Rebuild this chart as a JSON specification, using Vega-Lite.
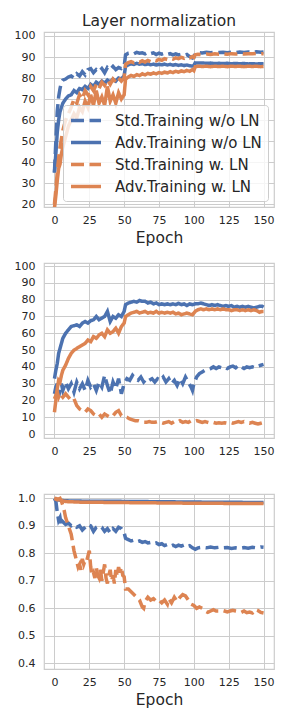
{
"$schema": "https://vega.github.io/schema/vega-lite/v6.json",
"background": "white",
"padding": {"left": 13, "top": 13, "right": 5, "bottom": 5},
"bounds": "flush",
"spacing": 56,
"config": {
  "font": "DejaVu Sans",
  "view": {"stroke": "#cccccc", "strokeWidth": 1.2},
  "axis": {"grid": true, "gridColor": "#cccccc", "gridWidth": 1, "domain": false, "ticks": false, "tickSize": 0, "labelFontSize": 11, "labelColor": "#262626", "labelPadding": 9, "titleFontSize": 15.5, "titleFontWeight": "normal", "titleColor": "#262626", "titlePadding": 5},
  "axisX": {"labelPadding": 7},
  "legend": {"labelFontSize": 15, "labelColor": "#262626", "symbolStrokeWidth": 3.5, "fillColor": "rgba(255,255,255,0.8)", "strokeColor": "#cccccc", "cornerRadius": 3, "padding": 6, "rowPadding": 4}
},
"resolve": {"scale": {"color": "independent", "strokeDash": "independent"}, "legend": {"color": "independent", "strokeDash": "independent"}},
"datasets": {
"acc": [
{"epoch":0,"run":"A","value":35},{"epoch":1,"run":"A","value":50},{"epoch":2,"run":"A","value":64},{"epoch":3,"run":"A","value":71},{"epoch":4,"run":"A","value":75},{"epoch":5,"run":"A","value":78},{"epoch":6,"run":"A","value":79},{"epoch":8,"run":"A","value":79.5},{"epoch":10,"run":"A","value":80.5},{"epoch":12,"run":"A","value":81},{"epoch":14,"run":"A","value":80},{"epoch":16,"run":"A","value":82},{"epoch":18,"run":"A","value":81},{"epoch":20,"run":"A","value":83},{"epoch":22,"run":"A","value":81.5},{"epoch":24,"run":"A","value":84},{"epoch":26,"run":"A","value":84.5},{"epoch":28,"run":"A","value":82.5},{"epoch":30,"run":"A","value":84},{"epoch":32,"run":"A","value":83},{"epoch":34,"run":"A","value":84.5},{"epoch":36,"run":"A","value":82.5},{"epoch":38,"run":"A","value":85},{"epoch":40,"run":"A","value":84},{"epoch":42,"run":"A","value":85.5},{"epoch":44,"run":"A","value":84},{"epoch":46,"run":"A","value":85},{"epoch":48,"run":"A","value":84.5},{"epoch":50,"run":"A","value":85.5},{"epoch":51,"run":"A","value":91},{"epoch":53,"run":"A","value":91.8},{"epoch":55,"run":"A","value":92},{"epoch":57,"run":"A","value":91.5},{"epoch":59,"run":"A","value":92.2},{"epoch":61,"run":"A","value":91.8},{"epoch":63,"run":"A","value":92},{"epoch":65,"run":"A","value":91.5},{"epoch":67,"run":"A","value":92.2},{"epoch":69,"run":"A","value":91.6},{"epoch":71,"run":"A","value":92},{"epoch":73,"run":"A","value":91.2},{"epoch":75,"run":"A","value":91.8},{"epoch":77,"run":"A","value":91.4},{"epoch":79,"run":"A","value":91.8},{"epoch":81,"run":"A","value":91.2},{"epoch":83,"run":"A","value":91.6},{"epoch":85,"run":"A","value":91},{"epoch":87,"run":"A","value":91.5},{"epoch":89,"run":"A","value":91},{"epoch":91,"run":"A","value":91.3},{"epoch":93,"run":"A","value":90.8},{"epoch":95,"run":"A","value":91.2},{"epoch":97,"run":"A","value":90.2},{"epoch":99,"run":"A","value":89.5},{"epoch":100,"run":"A","value":89.8},{"epoch":101,"run":"A","value":91.8},{"epoch":103,"run":"A","value":92.1},{"epoch":106,"run":"A","value":91.9},{"epoch":109,"run":"A","value":92.2},{"epoch":112,"run":"A","value":92},{"epoch":115,"run":"A","value":92.3},{"epoch":118,"run":"A","value":92.1},{"epoch":121,"run":"A","value":92.3},{"epoch":124,"run":"A","value":92},{"epoch":127,"run":"A","value":92.3},{"epoch":130,"run":"A","value":92.1},{"epoch":133,"run":"A","value":92.4},{"epoch":136,"run":"A","value":92.2},{"epoch":139,"run":"A","value":92.4},{"epoch":142,"run":"A","value":92.2},{"epoch":145,"run":"A","value":92.5},{"epoch":148,"run":"A","value":92.3},{"epoch":150,"run":"A","value":92.4},
{"epoch":0,"run":"B","value":35},{"epoch":1,"run":"B","value":44},{"epoch":2,"run":"B","value":54},{"epoch":3,"run":"B","value":60},{"epoch":4,"run":"B","value":64},{"epoch":5,"run":"B","value":66},{"epoch":6,"run":"B","value":68},{"epoch":8,"run":"B","value":70},{"epoch":10,"run":"B","value":71.5},{"epoch":12,"run":"B","value":72},{"epoch":14,"run":"B","value":74},{"epoch":16,"run":"B","value":73},{"epoch":18,"run":"B","value":75},{"epoch":20,"run":"B","value":74.5},{"epoch":22,"run":"B","value":76},{"epoch":24,"run":"B","value":75},{"epoch":26,"run":"B","value":77},{"epoch":28,"run":"B","value":76},{"epoch":30,"run":"B","value":78},{"epoch":32,"run":"B","value":77},{"epoch":34,"run":"B","value":78.5},{"epoch":36,"run":"B","value":77.5},{"epoch":38,"run":"B","value":79},{"epoch":40,"run":"B","value":78},{"epoch":42,"run":"B","value":79.5},{"epoch":44,"run":"B","value":78.5},{"epoch":46,"run":"B","value":80},{"epoch":48,"run":"B","value":79.5},{"epoch":50,"run":"B","value":81},{"epoch":51,"run":"B","value":85.5},{"epoch":53,"run":"B","value":86.3},{"epoch":55,"run":"B","value":86.8},{"epoch":57,"run":"B","value":86.5},{"epoch":59,"run":"B","value":87},{"epoch":61,"run":"B","value":86.6},{"epoch":63,"run":"B","value":86.8},{"epoch":65,"run":"B","value":86.4},{"epoch":67,"run":"B","value":86.7},{"epoch":69,"run":"B","value":86.3},{"epoch":71,"run":"B","value":86.6},{"epoch":73,"run":"B","value":86.2},{"epoch":75,"run":"B","value":86.5},{"epoch":77,"run":"B","value":86.3},{"epoch":79,"run":"B","value":86.6},{"epoch":81,"run":"B","value":86.2},{"epoch":83,"run":"B","value":86.5},{"epoch":85,"run":"B","value":86.1},{"epoch":87,"run":"B","value":86.4},{"epoch":89,"run":"B","value":86},{"epoch":91,"run":"B","value":86.3},{"epoch":93,"run":"B","value":85.9},{"epoch":95,"run":"B","value":86.2},{"epoch":97,"run":"B","value":85.8},{"epoch":99,"run":"B","value":85.7},{"epoch":100,"run":"B","value":86},{"epoch":101,"run":"B","value":87.2},{"epoch":103,"run":"B","value":87.1},{"epoch":106,"run":"B","value":87.2},{"epoch":109,"run":"B","value":87},{"epoch":112,"run":"B","value":87.1},{"epoch":115,"run":"B","value":86.9},{"epoch":118,"run":"B","value":87},{"epoch":121,"run":"B","value":86.9},{"epoch":124,"run":"B","value":87},{"epoch":127,"run":"B","value":86.8},{"epoch":130,"run":"B","value":86.9},{"epoch":133,"run":"B","value":86.8},{"epoch":136,"run":"B","value":86.9},{"epoch":139,"run":"B","value":86.7},{"epoch":142,"run":"B","value":86.8},{"epoch":145,"run":"B","value":86.7},{"epoch":148,"run":"B","value":86.8},{"epoch":150,"run":"B","value":86.7},
{"epoch":0,"run":"C","value":20},{"epoch":1,"run":"C","value":27},{"epoch":2,"run":"C","value":35},{"epoch":3,"run":"C","value":42},{"epoch":4,"run":"C","value":47},{"epoch":5,"run":"C","value":51},{"epoch":6,"run":"C","value":55},{"epoch":8,"run":"C","value":60},{"epoch":10,"run":"C","value":63},{"epoch":12,"run":"C","value":66},{"epoch":14,"run":"C","value":70},{"epoch":16,"run":"C","value":68},{"epoch":18,"run":"C","value":72},{"epoch":20,"run":"C","value":70},{"epoch":22,"run":"C","value":74},{"epoch":24,"run":"C","value":72},{"epoch":26,"run":"C","value":76},{"epoch":28,"run":"C","value":74},{"epoch":30,"run":"C","value":77},{"epoch":32,"run":"C","value":75},{"epoch":34,"run":"C","value":78},{"epoch":36,"run":"C","value":76.5},{"epoch":38,"run":"C","value":79},{"epoch":40,"run":"C","value":77},{"epoch":42,"run":"C","value":79.5},{"epoch":44,"run":"C","value":78},{"epoch":46,"run":"C","value":80},{"epoch":48,"run":"C","value":78.5},{"epoch":50,"run":"C","value":80},{"epoch":51,"run":"C","value":86.5},{"epoch":53,"run":"C","value":87.3},{"epoch":55,"run":"C","value":87.8},{"epoch":57,"run":"C","value":87.2},{"epoch":59,"run":"C","value":88},{"epoch":61,"run":"C","value":87.5},{"epoch":63,"run":"C","value":88.2},{"epoch":65,"run":"C","value":87.6},{"epoch":67,"run":"C","value":88.4},{"epoch":69,"run":"C","value":87.8},{"epoch":71,"run":"C","value":88.6},{"epoch":73,"run":"C","value":88.2},{"epoch":75,"run":"C","value":88.9},{"epoch":77,"run":"C","value":88.4},{"epoch":79,"run":"C","value":89.2},{"epoch":81,"run":"C","value":88.8},{"epoch":83,"run":"C","value":89.4},{"epoch":85,"run":"C","value":89},{"epoch":87,"run":"C","value":89.6},{"epoch":89,"run":"C","value":89.2},{"epoch":91,"run":"C","value":89.8},{"epoch":93,"run":"C","value":89.4},{"epoch":95,"run":"C","value":90},{"epoch":97,"run":"C","value":89.6},{"epoch":99,"run":"C","value":90.2},{"epoch":100,"run":"C","value":89.8},{"epoch":101,"run":"C","value":91},{"epoch":103,"run":"C","value":91.3},{"epoch":106,"run":"C","value":91.2},{"epoch":109,"run":"C","value":91.4},{"epoch":112,"run":"C","value":91.2},{"epoch":115,"run":"C","value":91.5},{"epoch":118,"run":"C","value":91.3},{"epoch":121,"run":"C","value":91.5},{"epoch":124,"run":"C","value":91.3},{"epoch":127,"run":"C","value":91.6},{"epoch":130,"run":"C","value":91.4},{"epoch":133,"run":"C","value":91.6},{"epoch":136,"run":"C","value":91.4},{"epoch":139,"run":"C","value":91.6},{"epoch":142,"run":"C","value":91.5},{"epoch":145,"run":"C","value":91.7},{"epoch":148,"run":"C","value":91.5},{"epoch":150,"run":"C","value":91.6},
{"epoch":0,"run":"D","value":18},{"epoch":1,"run":"D","value":24},{"epoch":2,"run":"D","value":31},{"epoch":3,"run":"D","value":37},{"epoch":4,"run":"D","value":39},{"epoch":5,"run":"D","value":44},{"epoch":6,"run":"D","value":47},{"epoch":8,"run":"D","value":52},{"epoch":10,"run":"D","value":57},{"epoch":12,"run":"D","value":60},{"epoch":14,"run":"D","value":63},{"epoch":16,"run":"D","value":61},{"epoch":18,"run":"D","value":66},{"epoch":20,"run":"D","value":64},{"epoch":22,"run":"D","value":69},{"epoch":24,"run":"D","value":66},{"epoch":26,"run":"D","value":72},{"epoch":28,"run":"D","value":67},{"epoch":30,"run":"D","value":74},{"epoch":32,"run":"D","value":68},{"epoch":34,"run":"D","value":71},{"epoch":36,"run":"D","value":67},{"epoch":38,"run":"D","value":76},{"epoch":40,"run":"D","value":69},{"epoch":42,"run":"D","value":72},{"epoch":44,"run":"D","value":68},{"epoch":46,"run":"D","value":73},{"epoch":48,"run":"D","value":70},{"epoch":50,"run":"D","value":72},{"epoch":51,"run":"D","value":79.5},{"epoch":53,"run":"D","value":80.5},{"epoch":55,"run":"D","value":81.2},{"epoch":57,"run":"D","value":80.8},{"epoch":59,"run":"D","value":81.6},{"epoch":61,"run":"D","value":81.2},{"epoch":63,"run":"D","value":82},{"epoch":65,"run":"D","value":81.5},{"epoch":67,"run":"D","value":82.2},{"epoch":69,"run":"D","value":81.8},{"epoch":71,"run":"D","value":82.4},{"epoch":73,"run":"D","value":82},{"epoch":75,"run":"D","value":82.6},{"epoch":77,"run":"D","value":82.2},{"epoch":79,"run":"D","value":82.8},{"epoch":81,"run":"D","value":82.4},{"epoch":83,"run":"D","value":83},{"epoch":85,"run":"D","value":82.6},{"epoch":87,"run":"D","value":83.2},{"epoch":89,"run":"D","value":82.8},{"epoch":91,"run":"D","value":83.4},{"epoch":93,"run":"D","value":83},{"epoch":95,"run":"D","value":83.6},{"epoch":97,"run":"D","value":83.2},{"epoch":99,"run":"D","value":84},{"epoch":100,"run":"D","value":83.5},{"epoch":101,"run":"D","value":85.4},{"epoch":103,"run":"D","value":85.6},{"epoch":106,"run":"D","value":85.5},{"epoch":109,"run":"D","value":85.6},{"epoch":112,"run":"D","value":85.4},{"epoch":115,"run":"D","value":85.6},{"epoch":118,"run":"D","value":85.5},{"epoch":121,"run":"D","value":85.6},{"epoch":124,"run":"D","value":85.4},{"epoch":127,"run":"D","value":85.6},{"epoch":130,"run":"D","value":85.5},{"epoch":133,"run":"D","value":85.6},{"epoch":136,"run":"D","value":85.4},{"epoch":139,"run":"D","value":85.6},{"epoch":142,"run":"D","value":85.5},{"epoch":145,"run":"D","value":85.6},{"epoch":148,"run":"D","value":85.4},{"epoch":150,"run":"D","value":85.5}
],
"rob": [
{"epoch":0,"run":"A","value":24},{"epoch":1,"run":"A","value":28},{"epoch":2,"run":"A","value":30},{"epoch":3,"run":"A","value":22},{"epoch":4,"run":"A","value":27},{"epoch":5,"run":"A","value":30},{"epoch":6,"run":"A","value":26},{"epoch":8,"run":"A","value":31},{"epoch":10,"run":"A","value":27},{"epoch":12,"run":"A","value":30},{"epoch":14,"run":"A","value":25},{"epoch":16,"run":"A","value":31},{"epoch":18,"run":"A","value":27},{"epoch":20,"run":"A","value":30},{"epoch":22,"run":"A","value":26},{"epoch":24,"run":"A","value":32},{"epoch":26,"run":"A","value":28},{"epoch":28,"run":"A","value":30},{"epoch":30,"run":"A","value":26},{"epoch":32,"run":"A","value":31},{"epoch":34,"run":"A","value":28},{"epoch":36,"run":"A","value":35},{"epoch":38,"run":"A","value":29},{"epoch":40,"run":"A","value":24},{"epoch":42,"run":"A","value":31},{"epoch":44,"run":"A","value":27},{"epoch":46,"run":"A","value":33},{"epoch":48,"run":"A","value":24},{"epoch":50,"run":"A","value":30},{"epoch":52,"run":"A","value":33},{"epoch":54,"run":"A","value":32},{"epoch":56,"run":"A","value":35},{"epoch":58,"run":"A","value":33},{"epoch":60,"run":"A","value":32},{"epoch":62,"run":"A","value":34},{"epoch":64,"run":"A","value":31},{"epoch":66,"run":"A","value":33},{"epoch":68,"run":"A","value":32},{"epoch":70,"run":"A","value":33},{"epoch":72,"run":"A","value":31},{"epoch":74,"run":"A","value":33},{"epoch":76,"run":"A","value":32},{"epoch":78,"run":"A","value":34},{"epoch":80,"run":"A","value":31},{"epoch":82,"run":"A","value":33},{"epoch":84,"run":"A","value":30},{"epoch":86,"run":"A","value":32},{"epoch":88,"run":"A","value":29},{"epoch":90,"run":"A","value":33},{"epoch":92,"run":"A","value":30},{"epoch":94,"run":"A","value":34},{"epoch":96,"run":"A","value":31},{"epoch":98,"run":"A","value":28},{"epoch":99,"run":"A","value":26},{"epoch":100,"run":"A","value":30},{"epoch":102,"run":"A","value":34},{"epoch":104,"run":"A","value":36},{"epoch":106,"run":"A","value":37},{"epoch":108,"run":"A","value":38},{"epoch":110,"run":"A","value":38.5},{"epoch":112,"run":"A","value":39},{"epoch":114,"run":"A","value":40},{"epoch":116,"run":"A","value":39},{"epoch":118,"run":"A","value":40},{"epoch":120,"run":"A","value":39.5},{"epoch":122,"run":"A","value":40},{"epoch":124,"run":"A","value":39},{"epoch":126,"run":"A","value":40},{"epoch":128,"run":"A","value":40.5},{"epoch":130,"run":"A","value":39.5},{"epoch":132,"run":"A","value":41},{"epoch":134,"run":"A","value":40},{"epoch":136,"run":"A","value":39},{"epoch":138,"run":"A","value":40},{"epoch":140,"run":"A","value":39.5},{"epoch":142,"run":"A","value":40},{"epoch":144,"run":"A","value":39.5},{"epoch":146,"run":"A","value":40.5},{"epoch":148,"run":"A","value":41},{"epoch":150,"run":"A","value":41.5},
{"epoch":0,"run":"B","value":33},{"epoch":1,"run":"B","value":38},{"epoch":2,"run":"B","value":42},{"epoch":3,"run":"B","value":48},{"epoch":4,"run":"B","value":51},{"epoch":5,"run":"B","value":54},{"epoch":6,"run":"B","value":57},{"epoch":8,"run":"B","value":60},{"epoch":10,"run":"B","value":62},{"epoch":12,"run":"B","value":64},{"epoch":14,"run":"B","value":64.5},{"epoch":16,"run":"B","value":65},{"epoch":18,"run":"B","value":64},{"epoch":20,"run":"B","value":66},{"epoch":22,"run":"B","value":67},{"epoch":24,"run":"B","value":66},{"epoch":26,"run":"B","value":67.5},{"epoch":28,"run":"B","value":68},{"epoch":30,"run":"B","value":70},{"epoch":32,"run":"B","value":68},{"epoch":34,"run":"B","value":69},{"epoch":36,"run":"B","value":70},{"epoch":38,"run":"B","value":73},{"epoch":40,"run":"B","value":67},{"epoch":42,"run":"B","value":70},{"epoch":44,"run":"B","value":69},{"epoch":46,"run":"B","value":71},{"epoch":48,"run":"B","value":70},{"epoch":50,"run":"B","value":73},{"epoch":51,"run":"B","value":77},{"epoch":53,"run":"B","value":78},{"epoch":55,"run":"B","value":78.5},{"epoch":57,"run":"B","value":79},{"epoch":59,"run":"B","value":78.5},{"epoch":61,"run":"B","value":79.5},{"epoch":63,"run":"B","value":79},{"epoch":65,"run":"B","value":79},{"epoch":67,"run":"B","value":78},{"epoch":69,"run":"B","value":78.5},{"epoch":71,"run":"B","value":77.5},{"epoch":73,"run":"B","value":78},{"epoch":75,"run":"B","value":77},{"epoch":77,"run":"B","value":77.5},{"epoch":79,"run":"B","value":77},{"epoch":81,"run":"B","value":77.5},{"epoch":83,"run":"B","value":77},{"epoch":85,"run":"B","value":77.5},{"epoch":87,"run":"B","value":77},{"epoch":89,"run":"B","value":77.8},{"epoch":91,"run":"B","value":77},{"epoch":93,"run":"B","value":77.5},{"epoch":95,"run":"B","value":76.5},{"epoch":97,"run":"B","value":77.5},{"epoch":99,"run":"B","value":77},{"epoch":101,"run":"B","value":77.5},{"epoch":103,"run":"B","value":77.5},{"epoch":105,"run":"B","value":78},{"epoch":107,"run":"B","value":77.5},{"epoch":109,"run":"B","value":77},{"epoch":111,"run":"B","value":76.5},{"epoch":113,"run":"B","value":77},{"epoch":115,"run":"B","value":76.5},{"epoch":117,"run":"B","value":77},{"epoch":119,"run":"B","value":76.5},{"epoch":121,"run":"B","value":76},{"epoch":123,"run":"B","value":76.5},{"epoch":125,"run":"B","value":76},{"epoch":127,"run":"B","value":76.5},{"epoch":129,"run":"B","value":75.5},{"epoch":131,"run":"B","value":76},{"epoch":133,"run":"B","value":75.5},{"epoch":135,"run":"B","value":76},{"epoch":137,"run":"B","value":75.5},{"epoch":139,"run":"B","value":76},{"epoch":141,"run":"B","value":75.5},{"epoch":143,"run":"B","value":75},{"epoch":145,"run":"B","value":75.5},{"epoch":147,"run":"B","value":76},{"epoch":149,"run":"B","value":76},{"epoch":150,"run":"B","value":75.5},
{"epoch":0,"run":"C","value":21},{"epoch":1,"run":"C","value":23},{"epoch":2,"run":"C","value":25},{"epoch":3,"run":"C","value":22},{"epoch":4,"run":"C","value":24},{"epoch":6,"run":"C","value":22},{"epoch":8,"run":"C","value":24},{"epoch":10,"run":"C","value":22},{"epoch":12,"run":"C","value":20},{"epoch":14,"run":"C","value":21},{"epoch":16,"run":"C","value":17},{"epoch":18,"run":"C","value":15},{"epoch":20,"run":"C","value":14},{"epoch":22,"run":"C","value":13},{"epoch":24,"run":"C","value":15},{"epoch":26,"run":"C","value":14},{"epoch":28,"run":"C","value":12},{"epoch":30,"run":"C","value":11},{"epoch":32,"run":"C","value":12},{"epoch":34,"run":"C","value":10},{"epoch":36,"run":"C","value":12},{"epoch":38,"run":"C","value":11},{"epoch":40,"run":"C","value":10},{"epoch":42,"run":"C","value":11},{"epoch":44,"run":"C","value":13},{"epoch":46,"run":"C","value":14},{"epoch":48,"run":"C","value":11},{"epoch":50,"run":"C","value":10.5},{"epoch":52,"run":"C","value":10},{"epoch":54,"run":"C","value":9},{"epoch":56,"run":"C","value":8.5},{"epoch":58,"run":"C","value":8},{"epoch":60,"run":"C","value":8},{"epoch":62,"run":"C","value":7.5},{"epoch":64,"run":"C","value":7},{"epoch":66,"run":"C","value":7},{"epoch":68,"run":"C","value":7.5},{"epoch":70,"run":"C","value":7},{"epoch":72,"run":"C","value":7},{"epoch":74,"run":"C","value":7.5},{"epoch":76,"run":"C","value":7},{"epoch":78,"run":"C","value":6.5},{"epoch":80,"run":"C","value":7},{"epoch":82,"run":"C","value":7.5},{"epoch":84,"run":"C","value":6.5},{"epoch":86,"run":"C","value":7.5},{"epoch":88,"run":"C","value":7},{"epoch":90,"run":"C","value":8},{"epoch":92,"run":"C","value":7},{"epoch":94,"run":"C","value":7.5},{"epoch":96,"run":"C","value":7},{"epoch":98,"run":"C","value":8},{"epoch":100,"run":"C","value":7.5},{"epoch":102,"run":"C","value":8},{"epoch":104,"run":"C","value":7.5},{"epoch":106,"run":"C","value":7},{"epoch":108,"run":"C","value":7.5},{"epoch":110,"run":"C","value":7},{"epoch":112,"run":"C","value":6.5},{"epoch":114,"run":"C","value":7},{"epoch":116,"run":"C","value":6.5},{"epoch":118,"run":"C","value":6.8},{"epoch":120,"run":"C","value":6.5},{"epoch":122,"run":"C","value":6.8},{"epoch":124,"run":"C","value":6.5},{"epoch":126,"run":"C","value":7},{"epoch":128,"run":"C","value":6.5},{"epoch":130,"run":"C","value":7},{"epoch":132,"run":"C","value":7.5},{"epoch":134,"run":"C","value":7},{"epoch":136,"run":"C","value":7.5},{"epoch":138,"run":"C","value":7},{"epoch":140,"run":"C","value":6.5},{"epoch":142,"run":"C","value":7},{"epoch":144,"run":"C","value":6.5},{"epoch":146,"run":"C","value":6},{"epoch":148,"run":"C","value":6.5},{"epoch":150,"run":"C","value":7},
{"epoch":0,"run":"D","value":13},{"epoch":1,"run":"D","value":20},{"epoch":2,"run":"D","value":27},{"epoch":3,"run":"D","value":32},{"epoch":4,"run":"D","value":31},{"epoch":5,"run":"D","value":35},{"epoch":6,"run":"D","value":38},{"epoch":8,"run":"D","value":41},{"epoch":10,"run":"D","value":45},{"epoch":12,"run":"D","value":48},{"epoch":14,"run":"D","value":50},{"epoch":16,"run":"D","value":51},{"epoch":18,"run":"D","value":52},{"epoch":20,"run":"D","value":53},{"epoch":22,"run":"D","value":54},{"epoch":24,"run":"D","value":56},{"epoch":26,"run":"D","value":55},{"epoch":28,"run":"D","value":58},{"epoch":30,"run":"D","value":57},{"epoch":32,"run":"D","value":59},{"epoch":34,"run":"D","value":60},{"epoch":36,"run":"D","value":58},{"epoch":38,"run":"D","value":62},{"epoch":40,"run":"D","value":60},{"epoch":42,"run":"D","value":61},{"epoch":44,"run":"D","value":63},{"epoch":46,"run":"D","value":60},{"epoch":48,"run":"D","value":64},{"epoch":50,"run":"D","value":66},{"epoch":51,"run":"D","value":70},{"epoch":53,"run":"D","value":71},{"epoch":55,"run":"D","value":72},{"epoch":57,"run":"D","value":72.5},{"epoch":59,"run":"D","value":73},{"epoch":61,"run":"D","value":72},{"epoch":63,"run":"D","value":72.5},{"epoch":65,"run":"D","value":73},{"epoch":67,"run":"D","value":72},{"epoch":69,"run":"D","value":72.5},{"epoch":71,"run":"D","value":72},{"epoch":73,"run":"D","value":73},{"epoch":75,"run":"D","value":72},{"epoch":77,"run":"D","value":72.5},{"epoch":79,"run":"D","value":72},{"epoch":81,"run":"D","value":72.5},{"epoch":83,"run":"D","value":72},{"epoch":85,"run":"D","value":72.5},{"epoch":87,"run":"D","value":71.5},{"epoch":89,"run":"D","value":72},{"epoch":91,"run":"D","value":71},{"epoch":93,"run":"D","value":71.5},{"epoch":95,"run":"D","value":72},{"epoch":97,"run":"D","value":71.5},{"epoch":99,"run":"D","value":71},{"epoch":101,"run":"D","value":73},{"epoch":103,"run":"D","value":74},{"epoch":105,"run":"D","value":74.5},{"epoch":107,"run":"D","value":74},{"epoch":109,"run":"D","value":74.5},{"epoch":111,"run":"D","value":74},{"epoch":113,"run":"D","value":74.5},{"epoch":115,"run":"D","value":74},{"epoch":117,"run":"D","value":74.5},{"epoch":119,"run":"D","value":74},{"epoch":121,"run":"D","value":74.5},{"epoch":123,"run":"D","value":74},{"epoch":125,"run":"D","value":74},{"epoch":127,"run":"D","value":73.5},{"epoch":129,"run":"D","value":74},{"epoch":131,"run":"D","value":74},{"epoch":133,"run":"D","value":73.5},{"epoch":135,"run":"D","value":74},{"epoch":137,"run":"D","value":73.5},{"epoch":139,"run":"D","value":74},{"epoch":141,"run":"D","value":73.5},{"epoch":143,"run":"D","value":74},{"epoch":145,"run":"D","value":73.5},{"epoch":147,"run":"D","value":72.5},{"epoch":149,"run":"D","value":73},{"epoch":150,"run":"D","value":73}
],
"sim": [
{"epoch":0,"run":"A","value":1.0},{"epoch":1,"run":"A","value":0.99},{"epoch":2,"run":"A","value":0.95},{"epoch":3,"run":"A","value":0.92},{"epoch":4,"run":"A","value":0.93},{"epoch":5,"run":"A","value":0.9},{"epoch":6,"run":"A","value":0.915},{"epoch":8,"run":"A","value":0.905},{"epoch":10,"run":"A","value":0.91},{"epoch":12,"run":"A","value":0.9},{"epoch":14,"run":"A","value":0.905},{"epoch":16,"run":"A","value":0.895},{"epoch":18,"run":"A","value":0.9},{"epoch":20,"run":"A","value":0.885},{"epoch":22,"run":"A","value":0.895},{"epoch":24,"run":"A","value":0.905},{"epoch":26,"run":"A","value":0.9},{"epoch":28,"run":"A","value":0.88},{"epoch":30,"run":"A","value":0.895},{"epoch":32,"run":"A","value":0.9},{"epoch":34,"run":"A","value":0.895},{"epoch":36,"run":"A","value":0.88},{"epoch":38,"run":"A","value":0.89},{"epoch":40,"run":"A","value":0.875},{"epoch":42,"run":"A","value":0.89},{"epoch":44,"run":"A","value":0.88},{"epoch":46,"run":"A","value":0.895},{"epoch":48,"run":"A","value":0.89},{"epoch":50,"run":"A","value":0.875},{"epoch":51,"run":"A","value":0.855},{"epoch":53,"run":"A","value":0.85},{"epoch":55,"run":"A","value":0.845},{"epoch":57,"run":"A","value":0.848},{"epoch":59,"run":"A","value":0.842},{"epoch":61,"run":"A","value":0.845},{"epoch":63,"run":"A","value":0.84},{"epoch":65,"run":"A","value":0.843},{"epoch":67,"run":"A","value":0.838},{"epoch":69,"run":"A","value":0.84},{"epoch":71,"run":"A","value":0.835},{"epoch":73,"run":"A","value":0.838},{"epoch":75,"run":"A","value":0.832},{"epoch":77,"run":"A","value":0.835},{"epoch":79,"run":"A","value":0.828},{"epoch":81,"run":"A","value":0.832},{"epoch":83,"run":"A","value":0.826},{"epoch":85,"run":"A","value":0.83},{"epoch":87,"run":"A","value":0.825},{"epoch":89,"run":"A","value":0.83},{"epoch":91,"run":"A","value":0.826},{"epoch":93,"run":"A","value":0.83},{"epoch":95,"run":"A","value":0.824},{"epoch":97,"run":"A","value":0.828},{"epoch":99,"run":"A","value":0.82},{"epoch":101,"run":"A","value":0.815},{"epoch":103,"run":"A","value":0.82},{"epoch":106,"run":"A","value":0.822},{"epoch":109,"run":"A","value":0.82},{"epoch":112,"run":"A","value":0.823},{"epoch":115,"run":"A","value":0.82},{"epoch":118,"run":"A","value":0.822},{"epoch":121,"run":"A","value":0.82},{"epoch":124,"run":"A","value":0.821},{"epoch":127,"run":"A","value":0.818},{"epoch":130,"run":"A","value":0.82},{"epoch":133,"run":"A","value":0.818},{"epoch":136,"run":"A","value":0.821},{"epoch":139,"run":"A","value":0.819},{"epoch":142,"run":"A","value":0.822},{"epoch":145,"run":"A","value":0.82},{"epoch":148,"run":"A","value":0.823},{"epoch":150,"run":"A","value":0.822},
{"epoch":0,"run":"B","value":1.0},{"epoch":2,"run":"B","value":0.995},{"epoch":4,"run":"B","value":0.993},{"epoch":6,"run":"B","value":0.992},{"epoch":10,"run":"B","value":0.991},{"epoch":20,"run":"B","value":0.99},{"epoch":30,"run":"B","value":0.99},{"epoch":40,"run":"B","value":0.99},{"epoch":50,"run":"B","value":0.989},{"epoch":60,"run":"B","value":0.989},{"epoch":70,"run":"B","value":0.988},{"epoch":80,"run":"B","value":0.988},{"epoch":90,"run":"B","value":0.987},{"epoch":100,"run":"B","value":0.987},{"epoch":110,"run":"B","value":0.986},{"epoch":120,"run":"B","value":0.986},{"epoch":130,"run":"B","value":0.986},{"epoch":140,"run":"B","value":0.985},{"epoch":150,"run":"B","value":0.985},
{"epoch":0,"run":"C","value":1.0},{"epoch":2,"run":"C","value":0.995},{"epoch":4,"run":"C","value":1.0},{"epoch":5,"run":"C","value":0.99},{"epoch":6,"run":"C","value":0.975},{"epoch":7,"run":"C","value":0.955},{"epoch":8,"run":"C","value":0.93},{"epoch":10,"run":"C","value":0.9},{"epoch":12,"run":"C","value":0.87},{"epoch":13,"run":"C","value":0.84},{"epoch":14,"run":"C","value":0.81},{"epoch":15,"run":"C","value":0.79},{"epoch":16,"run":"C","value":0.77},{"epoch":17,"run":"C","value":0.75},{"epoch":18,"run":"C","value":0.76},{"epoch":19,"run":"C","value":0.74},{"epoch":20,"run":"C","value":0.78},{"epoch":21,"run":"C","value":0.76},{"epoch":22,"run":"C","value":0.775},{"epoch":23,"run":"C","value":0.77},{"epoch":24,"run":"C","value":0.79},{"epoch":25,"run":"C","value":0.81},{"epoch":26,"run":"C","value":0.75},{"epoch":27,"run":"C","value":0.72},{"epoch":28,"run":"C","value":0.73},{"epoch":29,"run":"C","value":0.71},{"epoch":30,"run":"C","value":0.75},{"epoch":31,"run":"C","value":0.72},{"epoch":32,"run":"C","value":0.71},{"epoch":33,"run":"C","value":0.74},{"epoch":34,"run":"C","value":0.7},{"epoch":35,"run":"C","value":0.73},{"epoch":36,"run":"C","value":0.76},{"epoch":37,"run":"C","value":0.71},{"epoch":38,"run":"C","value":0.69},{"epoch":39,"run":"C","value":0.72},{"epoch":40,"run":"C","value":0.74},{"epoch":41,"run":"C","value":0.7},{"epoch":42,"run":"C","value":0.72},{"epoch":43,"run":"C","value":0.69},{"epoch":44,"run":"C","value":0.74},{"epoch":45,"run":"C","value":0.72},{"epoch":46,"run":"C","value":0.75},{"epoch":47,"run":"C","value":0.73},{"epoch":48,"run":"C","value":0.75},{"epoch":49,"run":"C","value":0.72},{"epoch":50,"run":"C","value":0.715},{"epoch":51,"run":"C","value":0.67},{"epoch":53,"run":"C","value":0.67},{"epoch":55,"run":"C","value":0.66},{"epoch":57,"run":"C","value":0.65},{"epoch":59,"run":"C","value":0.64},{"epoch":61,"run":"C","value":0.63},{"epoch":63,"run":"C","value":0.605},{"epoch":64,"run":"C","value":0.6},{"epoch":65,"run":"C","value":0.625},{"epoch":67,"run":"C","value":0.64},{"epoch":69,"run":"C","value":0.63},{"epoch":71,"run":"C","value":0.635},{"epoch":73,"run":"C","value":0.625},{"epoch":75,"run":"C","value":0.63},{"epoch":77,"run":"C","value":0.62},{"epoch":79,"run":"C","value":0.63},{"epoch":81,"run":"C","value":0.615},{"epoch":82,"run":"C","value":0.635},{"epoch":84,"run":"C","value":0.62},{"epoch":86,"run":"C","value":0.64},{"epoch":88,"run":"C","value":0.625},{"epoch":90,"run":"C","value":0.64},{"epoch":92,"run":"C","value":0.65},{"epoch":94,"run":"C","value":0.645},{"epoch":96,"run":"C","value":0.63},{"epoch":98,"run":"C","value":0.615},{"epoch":100,"run":"C","value":0.61},{"epoch":102,"run":"C","value":0.6},{"epoch":104,"run":"C","value":0.605},{"epoch":106,"run":"C","value":0.6},{"epoch":108,"run":"C","value":0.59},{"epoch":110,"run":"C","value":0.585},{"epoch":112,"run":"C","value":0.59},{"epoch":114,"run":"C","value":0.595},{"epoch":116,"run":"C","value":0.59},{"epoch":118,"run":"C","value":0.59},{"epoch":120,"run":"C","value":0.593},{"epoch":122,"run":"C","value":0.59},{"epoch":124,"run":"C","value":0.587},{"epoch":126,"run":"C","value":0.59},{"epoch":128,"run":"C","value":0.593},{"epoch":130,"run":"C","value":0.59},{"epoch":132,"run":"C","value":0.588},{"epoch":134,"run":"C","value":0.585},{"epoch":136,"run":"C","value":0.59},{"epoch":138,"run":"C","value":0.584},{"epoch":140,"run":"C","value":0.586},{"epoch":142,"run":"C","value":0.583},{"epoch":144,"run":"C","value":0.596},{"epoch":146,"run":"C","value":0.592},{"epoch":148,"run":"C","value":0.585},{"epoch":150,"run":"C","value":0.583},
{"epoch":0,"run":"D","value":1.0},{"epoch":1,"run":"D","value":1.0},{"epoch":2,"run":"D","value":0.998},{"epoch":4,"run":"D","value":0.995},{"epoch":6,"run":"D","value":0.991},{"epoch":8,"run":"D","value":0.989},{"epoch":10,"run":"D","value":0.988},{"epoch":15,"run":"D","value":0.987},{"epoch":20,"run":"D","value":0.986},{"epoch":30,"run":"D","value":0.986},{"epoch":40,"run":"D","value":0.985},{"epoch":50,"run":"D","value":0.985},{"epoch":60,"run":"D","value":0.984},{"epoch":70,"run":"D","value":0.984},{"epoch":80,"run":"D","value":0.983},{"epoch":90,"run":"D","value":0.983},{"epoch":100,"run":"D","value":0.982},{"epoch":110,"run":"D","value":0.982},{"epoch":120,"run":"D","value":0.982},{"epoch":130,"run":"D","value":0.981},{"epoch":140,"run":"D","value":0.981},{"epoch":150,"run":"D","value":0.981}
]
},
"vconcat": [
{
  "width": 230, "height": 175,
  "title": {"text": "Layer normalization", "fontSize": 15.5, "fontWeight": "normal", "color": "#262626", "offset": 0},
  "data": {"name": "acc"},
  "mark": {"type": "line", "strokeWidth": 3.5, "clip": true},
  "encoding": {
    "x": {"field": "epoch", "type": "quantitative", "scale": {"domain": [-7.5, 157.5], "nice": false, "zero": false}, "axis": {"values": [0, 25, 50, 75, 100, 125, 150], "title": "Epoch"}},
    "y": {"field": "value", "type": "quantitative", "scale": {"domain": [18.6, 101.9], "nice": false, "zero": false}, "axis": {"values": [20, 30, 40, 50, 60, 70, 80, 90, 100], "title": null}},
    "color": {"field": "run", "type": "nominal", "scale": {"domain": ["A", "B", "C", "D"], "range": ["#4c72b0", "#4c72b0", "#dd8452", "#dd8452"]}, "legend": {"title": null, "orient": "none", "legendX": 19, "legendY": 73, "symbolType": "M-1,0H3", "symbolSize": 225, "labelOffset": 27, "labelExpr": "datum.label == 'A' ? 'Std.Training w/o LN' : datum.label == 'B' ? 'Adv.Training w/o LN' : datum.label == 'C' ? 'Std.Training w. LN' : 'Adv.Training w. LN'"}},
    "strokeDash": {"field": "run", "type": "nominal", "scale": {"domain": ["A", "B", "C", "D"], "range": [[13, 5.5], [1, 0], [13, 5.5], [1, 0]]}, "legend": {"title": null, "orient": "none", "legendX": 19, "legendY": 73, "symbolType": "M-1,0H3", "symbolSize": 225, "labelOffset": 27, "labelExpr": "datum.label == 'A' ? 'Std.Training w/o LN' : datum.label == 'B' ? 'Adv.Training w/o LN' : datum.label == 'C' ? 'Std.Training w. LN' : 'Adv.Training w. LN'"}}
  }
},
{
  "width": 230, "height": 175,
  "data": {"name": "rob"},
  "mark": {"type": "line", "strokeWidth": 3.5, "clip": true},
  "encoding": {
    "x": {"field": "epoch", "type": "quantitative", "scale": {"domain": [-7.5, 157.5], "nice": false, "zero": false}, "axis": {"values": [0, 25, 50, 75, 100, 125, 150], "title": null}},
    "y": {"field": "value", "type": "quantitative", "scale": {"domain": [-2.3, 101.8], "nice": false, "zero": false}, "axis": {"values": [0, 10, 20, 30, 40, 50, 60, 70, 80, 90, 100], "title": null}},
    "color": {"field": "run", "type": "nominal", "scale": {"domain": ["A", "B", "C", "D"], "range": ["#4c72b0", "#4c72b0", "#dd8452", "#dd8452"]}, "legend": null},
    "strokeDash": {"field": "run", "type": "nominal", "scale": {"domain": ["A", "B", "C", "D"], "range": [[13, 5.5], [1, 0], [13, 5.5], [1, 0]]}, "legend": null}
  }
},
{
  "width": 230, "height": 175,
  "data": {"name": "sim"},
  "mark": {"type": "line", "strokeWidth": 3.5, "clip": true},
  "encoding": {
    "x": {"field": "epoch", "type": "quantitative", "scale": {"domain": [-7.5, 157.5], "nice": false, "zero": false}, "axis": {"values": [0, 25, 50, 75, 100, 125, 150], "title": "Epoch"}},
    "y": {"field": "value", "type": "quantitative", "scale": {"domain": [0.379, 1.016], "nice": false, "zero": false}, "axis": {"values": [0.4, 0.5, 0.6, 0.7, 0.8, 0.9, 1.0], "format": ".1f", "title": null}},
    "color": {"field": "run", "type": "nominal", "scale": {"domain": ["A", "B", "C", "D"], "range": ["#4c72b0", "#4c72b0", "#dd8452", "#dd8452"]}, "legend": null},
    "strokeDash": {"field": "run", "type": "nominal", "scale": {"domain": ["A", "B", "C", "D"], "range": [[13, 5.5], [1, 0], [13, 5.5], [1, 0]]}, "legend": null}
  }
}
]
}
